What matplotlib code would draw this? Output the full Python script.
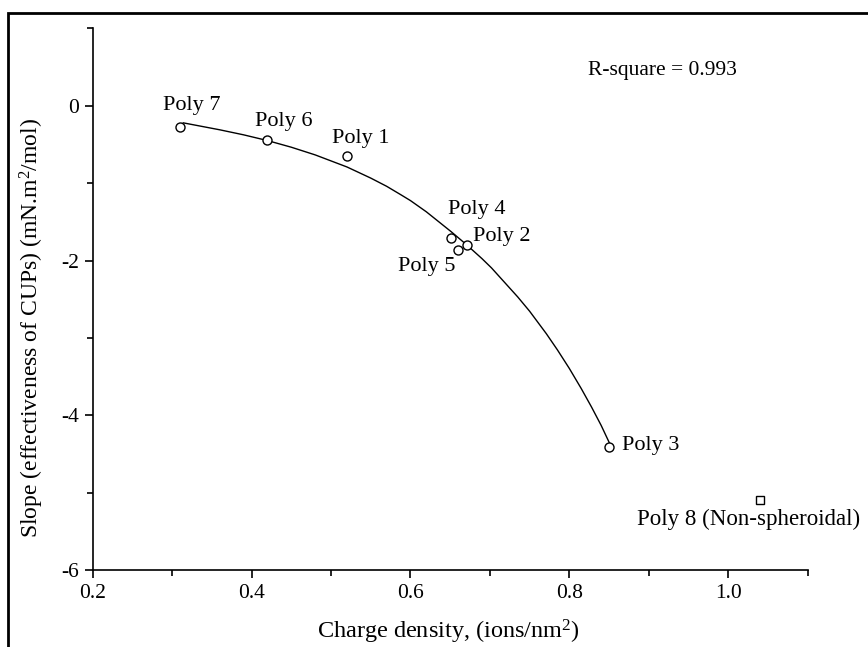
import matplotlib
matplotlib.use('Agg')
import matplotlib.pyplot as plt
from matplotlib.patches import Rectangle
from matplotlib.ticker import MultipleLocator

plt.rcParams['font.family'] = ['Liberation Serif', 'DejaVu Serif']
plt.rcParams['mathtext.fontset'] = 'custom'
plt.rcParams['mathtext.rm'] = 'Liberation Serif'
plt.rcParams['mathtext.it'] = 'Liberation Serif:italic'

# measured points
names = ['Poly 7', 'Poly 6', 'Poly 1', 'Poly 4', 'Poly 2', 'Poly 5', 'Poly 3']
charge = [0.31, 0.42, 0.52, 0.651, 0.671, 0.66, 0.85]
slope = [-0.27, -0.44, -0.65, -1.71, -1.80, -1.86, -4.41]

# outlier
odd_name = 'Poly 8 (Non-spheroidal)'
odd_charge = [1.04]
odd_slope = [-5.09]

# fitted curve
fit_x = [0.314, 0.36, 0.39, 0.42, 0.45, 0.48, 0.52, 0.55, 0.57, 0.588, 0.60, 0.62,
         0.651, 0.67, 0.69, 0.702, 0.735, 0.75, 0.771, 0.785, 0.80, 0.815, 0.828,
         0.84, 0.851]
fit_y = [-0.22, -0.31, -0.375, -0.449, -0.535, -0.634, -0.79, -0.934, -1.04, -1.15,
         -1.225, -1.37, -1.625, -1.79, -1.975, -2.095, -2.47, -2.655, -2.945, -3.155,
         -3.395, -3.655, -3.895, -4.13, -4.37]

r2_text = 'R-square = 0.993'

# label offsets in pixels (dx, dy, ha)
offsets = {
    'Poly 7': (-17, 17, 'left'),
    'Poly 6': (-12, 14, 'left'),
    'Poly 1': (-15, 13, 'left'),
    'Poly 4': (-3, 24, 'left'),
    'Poly 2': (6, 4, 'left'),
    'Poly 5': (-3, -21, 'right'),
    'Poly 3': (13, -3, 'left'),
}

fig = plt.figure(figsize=(8.68, 6.47), dpi=100)
ax = fig.add_axes([0.1068, 0.119, 0.8237, 0.837])

ax.plot(fit_x, fit_y, '-', color='black', lw=1.0)
ax.plot(charge, slope, 'o', mfc='white', mec='black', ms=6.5, mew=1.0)
ax.plot(odd_charge, odd_slope, 's', mfc='white', mec='black', ms=6, mew=1.0)

fs = 16
for n, x, y in zip(names, charge, slope):
    dx, dy, ha = offsets[n]
    ax.annotate(n, (x, y), xytext=(dx, dy), textcoords='offset pixels',
                ha=ha, va='baseline', fontsize=fs)
ax.annotate(odd_name, (odd_charge[0], odd_slope[0]), xytext=(-11, -25),
            textcoords='offset pixels', ha='center', va='baseline', fontsize=16.5)

ax.text(0.693, 0.914, r2_text, transform=ax.transAxes, ha='left', va='baseline', fontsize=15.5)

ax.set_xlim(0.2, 1.1)
ax.set_ylim(-6, 1)
ax.xaxis.set_major_locator(MultipleLocator(0.2))
ax.xaxis.set_minor_locator(MultipleLocator(0.1))
ax.yaxis.set_major_locator(MultipleLocator(2))
ax.yaxis.set_minor_locator(MultipleLocator(1))
ax.xaxis.set_major_formatter(plt.FormatStrFormatter('%.1f'))
ax.yaxis.set_major_formatter(plt.FormatStrFormatter('%d'))

for s in ['top', 'right']:
    ax.spines[s].set_visible(False)
for s in ['left', 'bottom']:
    ax.spines[s].set_linewidth(1.2)
ax.tick_params(which='major', direction='out', length=6, width=1.2, labelsize=15.5, pad=4)
ax.tick_params(which='minor', direction='out', length=4, width=1.2)

ax.set_xlabel('Charge density, (ions/nm$^2$)', fontsize=17.5)
ax.set_ylabel('Slope (effectiveness of CUPs) (mN.m$^2$/mol)', fontsize=17)
ax.xaxis.set_label_coords(0.498, -0.088)
ax.yaxis.set_label_coords(-0.066, 0.447)

# frame around the figure (only left and top visible)
fig.add_artist(Rectangle((8 / 868, -0.1), 1.2, 1.1 - 12.7 / 647, transform=fig.transFigure,
                         fill=False, lw=2.0, ec='black'))

fig.savefig('out.png', dpi=100)
